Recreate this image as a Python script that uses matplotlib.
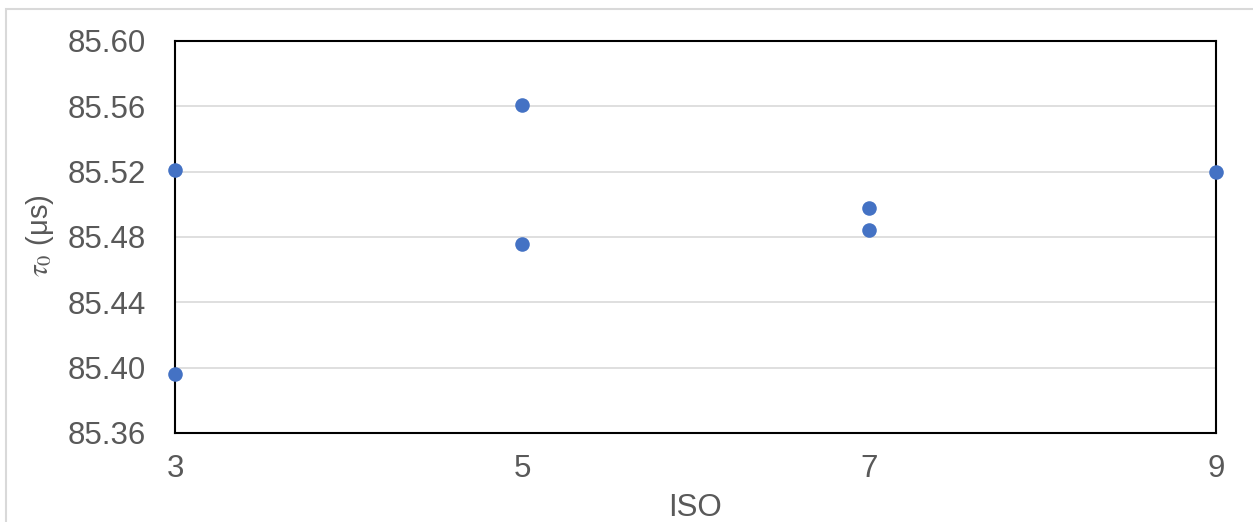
import matplotlib
matplotlib.use('Agg')
import matplotlib.pyplot as plt
from matplotlib.patches import Rectangle

# tau_0 measurements per ISO setting
iso = [3, 3, 5, 5, 7, 7, 9]
tau0 = [85.521, 85.396, 85.561, 85.476, 85.498, 85.484, 85.520]

x_ticks = [3, 5, 7, 9]
y_ticks = [85.36, 85.40, 85.44, 85.48, 85.52, 85.56, 85.60]

plt.rcParams['font.family'] = ['Liberation Sans', 'DejaVu Sans']
plt.rcParams['mathtext.fontset'] = 'stix'

W, H = 1253, 522
fig = plt.figure(figsize=(W / 100, H / 100), dpi=100)

# light chart-area frame (only top and left edges fall inside the image)
fig.patches.append(Rectangle((6 / W, -0.1), 1.2, 1 - 9 / H + 0.1,
                             transform=fig.transFigure, fill=False,
                             edgecolor='#d9d9d9', linewidth=1.5))

ax = fig.add_axes([175 / W, 1 - 433 / H, (1216 - 175) / W, (433 - 41) / H])
ax.set_xlim(3, 9)
ax.set_ylim(85.36, 85.60)
ax.set_xticks(x_ticks)
ax.set_yticks(y_ticks)
ax.set_yticklabels([f'{v:.2f}' for v in y_ticks])
ax.tick_params(axis='both', length=0, labelsize=22.5, labelcolor='#595959')
ax.tick_params(axis='y', pad=21)
ax.tick_params(axis='x', pad=15)

ax.grid(axis='y', color='#d9d9d9', linewidth=1.2)
ax.set_axisbelow(True)
for spine in ax.spines.values():
    spine.set_linewidth(1.5)
    spine.set_color('black')

ax.scatter(iso, tau0, s=110, color='#4472c4', zorder=5, clip_on=False,
           linewidths=0)

fig.text(40 / W, 1 - 236 / H, r'$\tau_0$ (μs)', rotation=90, ha='center',
         va='center', fontsize=21, color='#595959')
fig.text(695 / W, 1 - 516 / H, 'ISO', ha='center', va='baseline',
         fontsize=22.5, color='#595959')

fig.savefig('out.png', dpi=100)
